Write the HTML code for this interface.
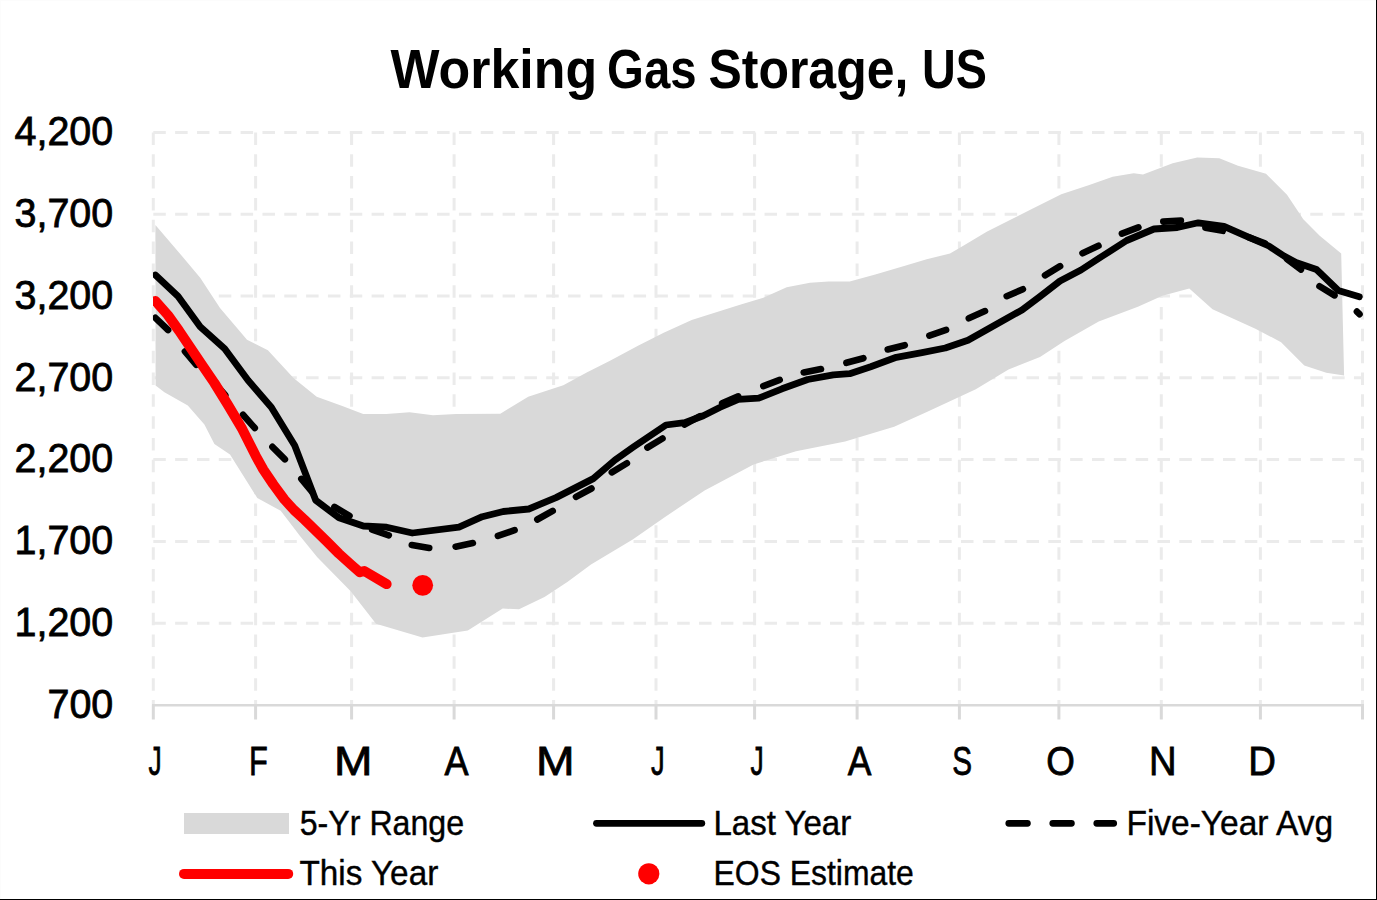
<!DOCTYPE html>
<html><head><meta charset="utf-8"><title>Working Gas Storage, US</title>
<style>
html,body{margin:0;padding:0;background:#fff;}
body{width:1377px;height:900px;overflow:hidden;}
svg{display:block;}
text{font-family:"Liberation Sans",sans-serif;fill:#000;}
</style></head><body>
<svg width="1377" height="900" viewBox="0 0 1377 900">
<rect x="0" y="0" width="1377" height="900" fill="#fff"/>
<line x1="153.3" y1="132.4" x2="1362.5" y2="132.4" stroke="#ebebeb" stroke-width="3" stroke-dasharray="12.5 9.33"/>
<line x1="153.3" y1="214.2" x2="1362.5" y2="214.2" stroke="#ebebeb" stroke-width="3" stroke-dasharray="12.5 9.33"/>
<line x1="153.3" y1="296.0" x2="1362.5" y2="296.0" stroke="#ebebeb" stroke-width="3" stroke-dasharray="12.5 9.33"/>
<line x1="153.3" y1="377.8" x2="1362.5" y2="377.8" stroke="#ebebeb" stroke-width="3" stroke-dasharray="12.5 9.33"/>
<line x1="153.3" y1="459.6" x2="1362.5" y2="459.6" stroke="#ebebeb" stroke-width="3" stroke-dasharray="12.5 9.33"/>
<line x1="153.3" y1="541.4" x2="1362.5" y2="541.4" stroke="#ebebeb" stroke-width="3" stroke-dasharray="12.5 9.33"/>
<line x1="153.3" y1="623.2" x2="1362.5" y2="623.2" stroke="#ebebeb" stroke-width="3" stroke-dasharray="12.5 9.33"/>
<line x1="153.3" y1="132.4" x2="153.3" y2="705" stroke="#ebebeb" stroke-width="3" stroke-dasharray="12.5 9.33"/>
<line x1="255.6" y1="132.4" x2="255.6" y2="705" stroke="#ebebeb" stroke-width="3" stroke-dasharray="12.5 9.33"/>
<line x1="351.6" y1="132.4" x2="351.6" y2="705" stroke="#ebebeb" stroke-width="3" stroke-dasharray="12.5 9.33"/>
<line x1="454.1" y1="132.4" x2="454.1" y2="705" stroke="#ebebeb" stroke-width="3" stroke-dasharray="12.5 9.33"/>
<line x1="553.6" y1="132.4" x2="553.6" y2="705" stroke="#ebebeb" stroke-width="3" stroke-dasharray="12.5 9.33"/>
<line x1="656" y1="132.4" x2="656" y2="705" stroke="#ebebeb" stroke-width="3" stroke-dasharray="12.5 9.33"/>
<line x1="754.6" y1="132.4" x2="754.6" y2="705" stroke="#ebebeb" stroke-width="3" stroke-dasharray="12.5 9.33"/>
<line x1="857.1" y1="132.4" x2="857.1" y2="705" stroke="#ebebeb" stroke-width="3" stroke-dasharray="12.5 9.33"/>
<line x1="959.4" y1="132.4" x2="959.4" y2="705" stroke="#ebebeb" stroke-width="3" stroke-dasharray="12.5 9.33"/>
<line x1="1058.9" y1="132.4" x2="1058.9" y2="705" stroke="#ebebeb" stroke-width="3" stroke-dasharray="12.5 9.33"/>
<line x1="1161.3" y1="132.4" x2="1161.3" y2="705" stroke="#ebebeb" stroke-width="3" stroke-dasharray="12.5 9.33"/>
<line x1="1260.4" y1="132.4" x2="1260.4" y2="705" stroke="#ebebeb" stroke-width="3" stroke-dasharray="12.5 9.33"/>
<line x1="1362.5" y1="132.4" x2="1362.5" y2="705" stroke="#ebebeb" stroke-width="3" stroke-dasharray="12.5 9.33"/>
<polygon points="155.4,225.0 181.5,255.5 200.2,277.7 220.0,308.0 240.0,331.6 247.0,339.8 267.9,350.2 293.5,378.1 316.7,396.7 342.3,406.0 363.2,414.1 386.4,414.1 409.6,412.3 432.9,415.3 456.1,414.1 500.3,413.7 528.2,396.7 563.3,385.3 586.7,372.5 610.0,360.8 638.0,345.7 663.7,332.8 691.7,320.0 740.0,304.8 763.3,297.8 786.7,287.3 810.0,282.7 828.7,281.5 849.7,281.5 875.3,274.5 903.3,266.3 926.7,259.3 950.0,253.5 963.3,245.7 986.7,231.7 1010.0,220.0 1033.3,208.3 1061.3,194.3 1089.3,185.0 1112.7,176.8 1133.7,173.3 1143.0,174.5 1172.7,163.3 1197.2,157.5 1219.3,158.2 1238.0,165.7 1266.0,173.8 1287.0,194.8 1303.3,219.3 1319.7,235.7 1341.2,253.4 1344.1,375.5 1326.3,372.8 1304.3,365.4 1281.1,342.2 1255.4,328.7 1212.5,309.2 1189.3,288.4 1162.4,295.7 1137.9,306.7 1098.7,321.4 1064.5,341.0 1040.0,356.9 1008.5,369.6 975.8,389.2 926.8,412.1 894.1,426.8 845.1,441.5 796.0,451.3 753.6,464.4 704.6,490.5 665.4,516.7 632.7,539.5 591.0,564.4 567.7,581.8 544.5,597.0 519.0,609.3 502.7,608.6 467.8,630.6 422.5,637.6 376.0,623.7 350.7,591.3 317.3,557.3 300.0,536.0 280.7,510.8 257.3,498.0 230.0,454.4 214.4,443.9 204.4,424.4 187.8,405.6 164.4,392.2 155.6,385.6" fill="#d9d9d9"/>
<line x1="152" y1="705.2" x2="1364" y2="705.2" stroke="#d9d9d9" stroke-width="2.6"/>
<line x1="153.3" y1="705" x2="153.3" y2="719.5" stroke="#d9d9d9" stroke-width="3"/>
<line x1="255.6" y1="705" x2="255.6" y2="719.5" stroke="#d9d9d9" stroke-width="3"/>
<line x1="351.6" y1="705" x2="351.6" y2="719.5" stroke="#d9d9d9" stroke-width="3"/>
<line x1="454.1" y1="705" x2="454.1" y2="719.5" stroke="#d9d9d9" stroke-width="3"/>
<line x1="553.6" y1="705" x2="553.6" y2="719.5" stroke="#d9d9d9" stroke-width="3"/>
<line x1="656" y1="705" x2="656" y2="719.5" stroke="#d9d9d9" stroke-width="3"/>
<line x1="754.6" y1="705" x2="754.6" y2="719.5" stroke="#d9d9d9" stroke-width="3"/>
<line x1="857.1" y1="705" x2="857.1" y2="719.5" stroke="#d9d9d9" stroke-width="3"/>
<line x1="959.4" y1="705" x2="959.4" y2="719.5" stroke="#d9d9d9" stroke-width="3"/>
<line x1="1058.9" y1="705" x2="1058.9" y2="719.5" stroke="#d9d9d9" stroke-width="3"/>
<line x1="1161.3" y1="705" x2="1161.3" y2="719.5" stroke="#d9d9d9" stroke-width="3"/>
<line x1="1260.4" y1="705" x2="1260.4" y2="719.5" stroke="#d9d9d9" stroke-width="3"/>
<line x1="1362.5" y1="705" x2="1362.5" y2="719.5" stroke="#d9d9d9" stroke-width="3"/>
<clipPath id="pc"><rect x="153" y="100" width="1215" height="620"/></clipPath>
<g clip-path="url(#pc)">
<path d="M155.4 317.8L168.1 330.0 M184.9 351.4L196.3 364.8 M213.7 381.9L225.3 395.1 M243.0 414.8L254.8 428.0 M272.4 446.8L284.9 459.3 M301.3 478.9L312.5 492.4 M334.4 506.9L349.5 515.9 M372.1 529.6L388.8 535.3 M411.8 545.0L429.2 547.9 M455.6 546.7L472.9 543.1 M497.9 535.9L514.6 530.1 M537.3 519.5L552.7 510.9 M576.0 496.8L591.5 488.5 M611.8 472.4L626.9 463.2 M647.4 447.6L662.5 438.5 M684.5 424.5L700.0 416.2 M722.1 403.4L738.2 396.4 M763.3 386.1L779.7 379.9 M803.7 372.4L821.0 369.1 M846.4 362.8L863.4 358.2 M887.7 349.5L904.8 345.2 M929.4 335.7L946.1 329.9 M968.8 318.3L985.0 311.1 M1006.7 296.2L1022.9 289.2 M1045.0 275.3L1060.1 266.2 M1082.5 253.2L1098.5 245.8 M1121.9 233.6L1138.4 227.4 M1163.3 221.6L1180.9 220.6 M1205.4 227.7L1222.8 230.8 M1248.4 237.2L1264.9 243.4 M1287.0 259.0L1301.0 269.5 M1319.5 286.2L1334.5 295.4 M1356.9 311.6L1359.5 314.2" fill="none" stroke="#000" stroke-width="6.6" stroke-linecap="round"/>
<polyline points="155.4,275.0 178.0,296.3 200.2,326.7 224.7,348.8 248.0,380.3 271.3,407.2 294.7,445.5 315.7,500.3 339.0,517.8 363.3,526.0 386.7,527.2 412.3,533.0 459.0,527.2 482.3,516.7 503.3,511.5 528.8,509.0 556.0,497.6 593.3,478.6 615.0,460.0 633.0,447.3 666.0,425.0 684.7,422.7 703.3,415.7 719.7,407.5 738.3,399.3 758.7,398.2 782.0,388.8 807.7,379.5 833.3,374.8 849.7,373.7 870.7,366.7 896.3,357.3 922.0,352.7 945.3,348.0 968.0,340.2 996.0,324.5 1022.0,310.0 1040.0,296.5 1060.0,281.0 1081.0,270.0 1103.3,255.5 1126.7,240.5 1154.0,229.0 1177.3,227.5 1198.3,222.8 1224.0,226.3 1245.0,235.7 1268.9,246.0 1284.0,256.0 1296.0,262.5 1316.5,269.5 1338.3,290.5 1359.3,296.8" fill="none" stroke="#000" stroke-width="6.8" stroke-linecap="round" stroke-linejoin="round"/>
<polyline points="155.4,301.0 167.8,315.0 178.9,330.5 190.0,347.0 201.1,363.5 214.4,383.0 228.0,405.0 242.2,428.9 255.6,455.6 263.3,469.5 273.3,484.4 284.4,499.5 294.0,510.0 304.4,519.6 314.4,529.3 326.7,541.4 338.9,553.6 351.1,564.6 359.8,572.2 364.3,571.0 386.6,584.1" fill="none" stroke="#f00" stroke-width="10" stroke-linecap="round" stroke-linejoin="round"/>
</g>
<circle cx="422.7" cy="585.3" r="10.4" fill="#f00"/>
<text x="0" y="0" transform="translate(14.51,145.20) scale(0.9673,1)" font-size="40.8" stroke="#000" stroke-width="0.8">4,200</text>
<text x="0" y="0" transform="translate(14.51,227.00) scale(0.9673,1)" font-size="40.8" stroke="#000" stroke-width="0.8">3,700</text>
<text x="0" y="0" transform="translate(14.51,308.80) scale(0.9673,1)" font-size="40.8" stroke="#000" stroke-width="0.8">3,200</text>
<text x="0" y="0" transform="translate(14.51,390.60) scale(0.9673,1)" font-size="40.8" stroke="#000" stroke-width="0.8">2,700</text>
<text x="0" y="0" transform="translate(14.51,472.40) scale(0.9673,1)" font-size="40.8" stroke="#000" stroke-width="0.8">2,200</text>
<text x="0" y="0" transform="translate(14.51,554.20) scale(0.9673,1)" font-size="40.8" stroke="#000" stroke-width="0.8">1,700</text>
<text x="0" y="0" transform="translate(14.51,636.00) scale(0.9673,1)" font-size="40.8" stroke="#000" stroke-width="0.8">1,200</text>
<text x="0" y="0" transform="translate(47.47,717.80) scale(0.9673,1)" font-size="40.8" stroke="#000" stroke-width="0.8">700</text>
<text x="0" y="0" transform="translate(148.60,775.00) scale(0.6472,1)" font-size="40.7" stroke="#000" stroke-width="0.8">J</text>
<text x="0" y="0" transform="translate(248.96,775.00) scale(0.7560,1)" font-size="40.7" stroke="#000" stroke-width="0.8">F</text>
<text x="0" y="0" transform="translate(334.09,775.00) scale(1.1337,1)" font-size="40.7" stroke="#000" stroke-width="0.8">M</text>
<text x="0" y="0" transform="translate(444.51,775.00) scale(0.8864,1)" font-size="40.7" stroke="#000" stroke-width="0.8">A</text>
<text x="0" y="0" transform="translate(535.88,775.00) scale(1.1374,1)" font-size="40.7" stroke="#000" stroke-width="0.8">M</text>
<text x="0" y="0" transform="translate(650.99,775.00) scale(0.6712,1)" font-size="40.7" stroke="#000" stroke-width="0.8">J</text>
<text x="0" y="0" transform="translate(750.40,775.00) scale(0.6472,1)" font-size="40.7" stroke="#000" stroke-width="0.8">J</text>
<text x="0" y="0" transform="translate(847.81,775.00) scale(0.8715,1)" font-size="40.7" stroke="#000" stroke-width="0.8">A</text>
<text x="0" y="0" transform="translate(952.16,775.00) scale(0.7307,1)" font-size="40.7" stroke="#000" stroke-width="0.8">S</text>
<text x="0" y="0" transform="translate(1046.15,775.00) scale(0.9036,1)" font-size="40.7" stroke="#000" stroke-width="0.8">O</text>
<text x="0" y="0" transform="translate(1149.05,775.00) scale(0.9387,1)" font-size="40.7" stroke="#000" stroke-width="0.8">N</text>
<text x="0" y="0" transform="translate(1248.34,775.00) scale(0.9413,1)" font-size="40.7" stroke="#000" stroke-width="0.8">D</text>
<text x="0" y="0" transform="translate(390.57,88.00) scale(0.9349,1)" font-size="55.5" font-weight="bold">Working</text>
<text x="0" y="0" transform="translate(607.11,88.00) scale(0.8531,1)" font-size="55.5" font-weight="bold">Gas</text>
<text x="0" y="0" transform="translate(708.50,88.00) scale(0.8999,1)" font-size="55.5" font-weight="bold">Storage,</text>
<text x="0" y="0" transform="translate(922.10,88.00) scale(0.8422,1)" font-size="55.5" font-weight="bold">US</text>
<rect x="184" y="813" width="105" height="21" fill="#d9d9d9"/>
<line x1="184" y1="873.9" x2="288.2" y2="873.9" stroke="#f00" stroke-width="10" stroke-linecap="round"/>
<line x1="596.5" y1="823.3" x2="701.8" y2="823.3" stroke="#000" stroke-width="6.8" stroke-linecap="round"/>
<line x1="1008.8" y1="823.3" x2="1113.7" y2="823.3" stroke="#000" stroke-width="6.8" stroke-linecap="round" stroke-dasharray="18.6 25.4"/>
<circle cx="648.8" cy="873.8" r="10.6" fill="#f00"/>
<text x="0" y="0" transform="translate(299.71,835.00) scale(0.9217,1)" font-size="34.9" stroke="#000" stroke-width="0.4">5-Yr Range</text>
<text x="0" y="0" transform="translate(299.45,885.00) scale(0.9541,1)" font-size="34.9" stroke="#000" stroke-width="0.4">This Year</text>
<text x="0" y="0" transform="translate(713.47,835.00) scale(0.9470,1)" font-size="34.9" stroke="#000" stroke-width="0.4">Last Year</text>
<text x="0" y="0" transform="translate(713.57,885.00) scale(0.9143,1)" font-size="34.9" stroke="#000" stroke-width="0.4">EOS Estimate</text>
<text x="0" y="0" transform="translate(1126.44,835.00) scale(0.9597,1)" font-size="34.9" stroke="#000" stroke-width="0.4">Five-Year Avg</text>
<rect x="0" y="0" width="1377" height="1" fill="#fcfcfc"/>
<rect x="0" y="0" width="1" height="900" fill="#fcfcfc"/>
<rect x="1376" y="0" width="1" height="900" fill="#000"/>
<rect x="0" y="899" width="1377" height="1" fill="#000"/>
</svg>
</body></html>
